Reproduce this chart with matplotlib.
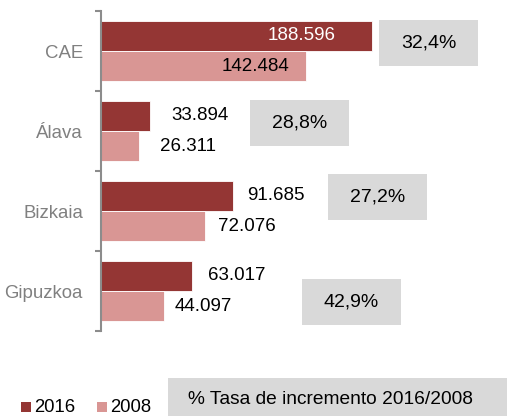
import matplotlib
matplotlib.use("Agg")
import matplotlib.pyplot as plt
from matplotlib.patches import Rectangle
import numpy as np

plt.rcParams['font.family'] = ['Liberation Sans', 'DejaVu Sans']

categories = ["CAE", "Álava", "Bizkaia", "Gipuzkoa"]
v2016 = [188596, 33894, 91685, 63017]
v2008 = [142484, 26311, 72076, 44097]
lab2016 = ["188.596", "33.894", "91.685", "63.017"]
lab2008 = ["142.484", "26.311", "72.076", "44.097"]
rates = ["32,4%", "28,8%", "27,2%", "42,9%"]
series_names = ["2016", "2008"]
note = "% Tasa de incremento 2016/2008"

W, H = 507, 416
fig = plt.figure(figsize=(W / 100, H / 100), dpi=100)

def fx(px):
    return px / W

def fy(py):
    return 1 - py / H

c16 = "#943634"
c08 = "#D99694"
grey_txt = "#808080"
box_c = "#D9D9D9"

ax = fig.add_axes([fx(101), fy(331), fx(507) - fx(101), (331 - 11) / H])
y = np.arange(len(categories))
bh = 0.38
ax.barh(y - bh / 2, v2016, height=bh, color=c16, edgecolor="white", linewidth=0.6)
ax.barh(y + bh / 2, v2008, height=bh, color=c08, edgecolor="white", linewidth=0.6)
ax.set_xlim(0, 406 / 1.437 * 1000)
ax.set_ylim(len(categories) - 0.5, -0.5)

for s in ["top", "right", "bottom"]:
    ax.spines[s].set_visible(False)
ax.spines["left"].set_color("#8C8C8C")
ax.spines["left"].set_linewidth(1.5)
ax.set_xticks([])
ax.set_yticks(y)
ax.set_yticklabels(categories, fontsize=13.4, color=grey_txt)
ax.tick_params(axis="y", which="major", length=0, pad=13)
ax.set_yticks(np.arange(-0.5, len(categories), 1.0), minor=True)
ax.tick_params(axis="y", which="minor", length=4, width=1.5, color="#8C8C8C", direction="out")

fs = 13.5
# value labels
for i in range(len(categories)):
    if i == 0:
        ax.annotate(lab2016[i], (v2016[i], y[i] - bh / 2), xytext=(-70, 0),
                    textcoords="offset pixels", ha="center", va="center",
                    fontsize=fs, color="white")
        ax.annotate(lab2008[i], (v2008[i], y[i] + bh / 2), xytext=(-16, 0),
                    textcoords="offset pixels", ha="right", va="center",
                    fontsize=fs, color="black")
    else:
        off16 = [0, 22, 14, 16][i]
        off08 = [0, 21, 13, 10][i]
        ax.annotate(lab2016[i], (v2016[i], y[i] - bh / 2), xytext=(off16, 0),
                    textcoords="offset pixels", ha="left", va="center",
                    fontsize=fs, color="black")
        ax.annotate(lab2008[i], (v2008[i], y[i] + bh / 2), xytext=(off08, 0),
                    textcoords="offset pixels", ha="left", va="center",
                    fontsize=fs, color="black")

# rate boxes (pixel layout)
boxes = [(379, 20), (250, 100), (328, 174), (302, 279)]
bw, bhh = 99, 46
for (bx, by), r in zip(boxes, rates):
    fig.add_artist(Rectangle((fx(bx), fy(by + bhh)), bw / W, bhh / H,
                             transform=fig.transFigure, color=box_c, lw=0))
    fig.text(fx(bx + bw / 2), fy(by + bhh / 2), r, ha="center", va="center",
             fontsize=14, color="black")

# legend
leg = [(21, series_names[0], c16), (97, series_names[1], c08)]
for lx, name, col in leg:
    fig.add_artist(Rectangle((fx(lx), fy(412)), 10 / W, 10 / H,
                             transform=fig.transFigure, color=col, lw=0))
    fig.text(fx(lx + 13), fy(407), name, ha="left", va="center", fontsize=13.3, color="black")

fig.add_artist(Rectangle((fx(168), 0), (W - 168) / W, (416 - 378) / H,
                         transform=fig.transFigure, color=box_c, lw=0))
fig.text(fx(188), fy(400), note, ha="left", va="center", fontsize=13.8, color="black")

fig.savefig("out.png", dpi=100)
